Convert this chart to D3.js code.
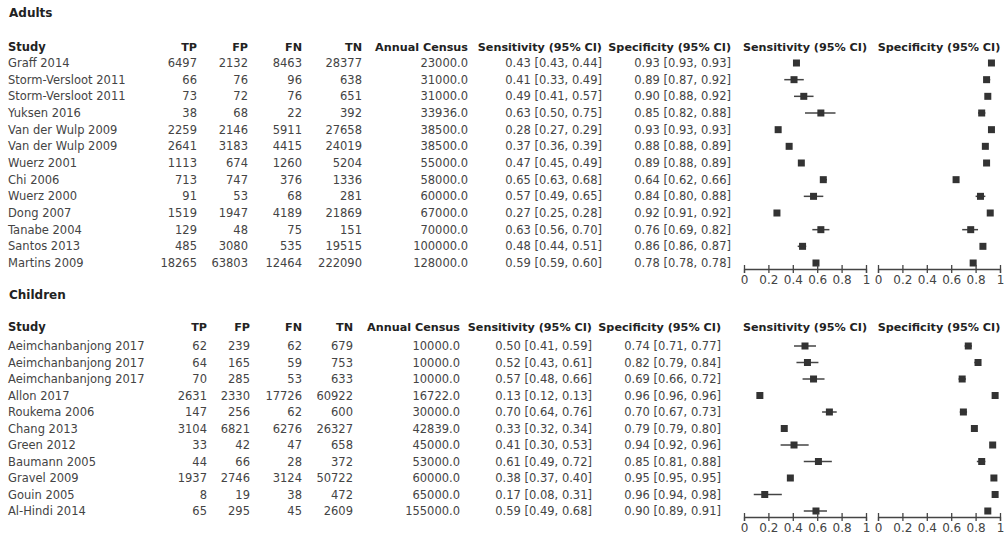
<!DOCTYPE html>
<html>
<head>
<meta charset="utf-8">
<script src="https://cdn.jsdelivr.net/npm/d3@7"></script>
<style>
body { margin: 0; background: #fff; }
text { font-family: "DejaVu Sans", sans-serif; }
</style>
</head>
<body>
<div id="chart"></div>
<script>
// ---- Adults data ----
var adultStudy = ["Graff 2014", "Storm-Versloot 2011", "Storm-Versloot 2011", "Yuksen 2016", "Van der Wulp 2009", "Van der Wulp 2009", "Wuerz 2001", "Chi 2006", "Wuerz 2000", "Dong 2007", "Tanabe 2004", "Santos 2013", "Martins 2009"];
var adultTP = [6497, 66, 73, 38, 2259, 2641, 1113, 713, 91, 1519, 129, 485, 18265];
var adultFP = [2132, 76, 72, 68, 2146, 3183, 674, 747, 53, 1947, 48, 3080, 63803];
var adultFN = [8463, 96, 76, 22, 5911, 4415, 1260, 376, 68, 4189, 75, 535, 12464];
var adultTN = [28377, 638, 651, 392, 27658, 24019, 5204, 1336, 281, 21869, 151, 19515, 222090];
var adultCensus = [23000, 31000, 31000, 33936, 38500, 38500, 55000, 58000, 60000, 67000, 70000, 100000, 128000];
var adultSens = [0.43, 0.41, 0.49, 0.63, 0.28, 0.37, 0.47, 0.65, 0.57, 0.27, 0.63, 0.48, 0.59];
var adultSensLo = [0.43, 0.33, 0.41, 0.50, 0.27, 0.36, 0.45, 0.63, 0.49, 0.25, 0.56, 0.44, 0.59];
var adultSensHi = [0.44, 0.49, 0.57, 0.75, 0.29, 0.39, 0.49, 0.68, 0.65, 0.28, 0.70, 0.51, 0.60];
var adultSpec = [0.93, 0.89, 0.90, 0.85, 0.93, 0.88, 0.89, 0.64, 0.84, 0.92, 0.76, 0.86, 0.78];
var adultSpecLo = [0.93, 0.87, 0.88, 0.82, 0.93, 0.88, 0.88, 0.62, 0.80, 0.91, 0.69, 0.86, 0.78];
var adultSpecHi = [0.93, 0.92, 0.92, 0.88, 0.93, 0.89, 0.89, 0.66, 0.88, 0.92, 0.82, 0.87, 0.78];

// ---- Children data ----
var childStudy = ["Aeimchanbanjong 2017", "Aeimchanbanjong 2017", "Aeimchanbanjong 2017", "Allon 2017", "Roukema 2006", "Chang 2013", "Green 2012", "Baumann 2005", "Gravel 2009", "Gouin 2005", "Al-Hindi 2014"];
var childTP = [62, 64, 70, 2631, 147, 3104, 33, 44, 1937, 8, 65];
var childFP = [239, 165, 285, 2330, 256, 6821, 42, 66, 2746, 19, 295];
var childFN = [62, 59, 53, 17726, 62, 6276, 47, 28, 3124, 38, 45];
var childTN = [679, 753, 633, 60922, 600, 26327, 658, 372, 50722, 472, 2609];
var childCensus = [10000, 10000, 10000, 16722, 30000, 42839, 45000, 53000, 60000, 65000, 155000];
var childSens = [0.50, 0.52, 0.57, 0.13, 0.70, 0.33, 0.41, 0.61, 0.38, 0.17, 0.59];
var childSensLo = [0.41, 0.43, 0.48, 0.12, 0.64, 0.32, 0.30, 0.49, 0.37, 0.08, 0.49];
var childSensHi = [0.59, 0.61, 0.66, 0.13, 0.76, 0.34, 0.53, 0.72, 0.40, 0.31, 0.68];
var childSpec = [0.74, 0.82, 0.69, 0.96, 0.70, 0.79, 0.94, 0.85, 0.95, 0.96, 0.90];
var childSpecLo = [0.71, 0.79, 0.66, 0.96, 0.67, 0.79, 0.92, 0.81, 0.95, 0.94, 0.89];
var childSpecHi = [0.77, 0.84, 0.72, 0.96, 0.73, 0.80, 0.96, 0.88, 0.95, 0.98, 0.91];

var axisTicks = [0, 0.2, 0.4, 0.6, 0.8, 1];

var width = 1007, height = 534;
var svg = d3.select("#chart").append("svg")
  .attr("width", width)
  .attr("height", height);

var f2 = d3.format(".2f");

function section(opt) {
  var n = opt.study.length;
  var g = svg.append("g");

  // section title
  g.append("text")
    .attr("x", 9).attr("y", opt.titleY)
    .attr("dy", "0.35em")
    .style("font-size", "12px").style("font-weight", "bold").style("fill", "#222")
    .text(opt.title);

  var y = d3.scalePoint()
    .domain(d3.range(n))
    .range([opt.firstRow, opt.lastRow]);

  var cols = [
    {name: "TP", x: opt.cols[0], vals: opt.tp.map(String)},
    {name: "FP", x: opt.cols[1], vals: opt.fp.map(String)},
    {name: "FN", x: opt.cols[2], vals: opt.fn.map(String)},
    {name: "TN", x: opt.cols[3], vals: opt.tn.map(String)},
    {name: "Annual Census", x: opt.cols[4], vals: opt.census.map(function(d) { return d.toFixed(1); })},
    {name: "Sensitivity (95% CI)", x: opt.cols[5], vals: opt.sens.map(function(d, i) { return f2(d) + " [" + f2(opt.sensLo[i]) + ", " + f2(opt.sensHi[i]) + "]"; })},
    {name: "Specificity (95% CI)", x: opt.cols[6], vals: opt.spec.map(function(d, i) { return f2(d) + " [" + f2(opt.specLo[i]) + ", " + f2(opt.specHi[i]) + "]"; })}
  ];

  // header row
  g.append("text")
    .attr("x", 8).attr("y", opt.headY).attr("dy", "0.35em")
    .style("font-size", "11.5px").style("font-weight", "bold").style("fill", "#222")
    .text("Study");
  cols.forEach(function(c) {
    g.append("text")
      .attr("x", c.x).attr("y", opt.headY).attr("dy", "0.35em")
      .attr("text-anchor", "end")
      .style("font-size", "11.2px").style("font-weight", "bold").style("fill", "#222")
      .text(c.name);
  });

  // study names
  g.selectAll(".study").data(opt.study).enter().append("text")
    .attr("x", 8).attr("y", function(d, i) { return y(i); }).attr("dy", "0.35em")
    .style("font-size", "11.5px").style("fill", "#444")
    .text(function(d) { return d; });

  cols.forEach(function(c) {
    g.selectAll(null).data(c.vals).enter().append("text")
      .attr("x", c.x).attr("y", function(d, i) { return y(i); }).attr("dy", "0.35em")
      .attr("text-anchor", "end")
      .style("font-size", "11.5px").style("fill", "#444")
      .text(function(d) { return d; });
  });

  // forest plots
  var plots = [
    {label: "Sensitivity (95% CI)", range: opt.sensRange, est: opt.sens, lo: opt.sensLo, hi: opt.sensHi},
    {label: "Specificity (95% CI)", range: opt.specRange, est: opt.spec, lo: opt.specLo, hi: opt.specHi}
  ];
  plots.forEach(function(p) {
    var x = d3.scaleLinear().domain([0, 1]).range(p.range);

    g.append("text")
      .attr("x", (p.range[0] + p.range[1]) / 2).attr("y", opt.headY).attr("dy", "0.35em")
      .attr("text-anchor", "middle")
      .style("font-size", "11.2px").style("font-weight", "bold").style("fill", "#222")
      .text(p.label);

    var rows = g.append("g").selectAll("g").data(p.est).enter().append("g");
    rows.append("line")
      .attr("x1", function(d, i) { return x(p.lo[i]); })
      .attr("x2", function(d, i) { return x(p.hi[i]); })
      .attr("y1", function(d, i) { return y(i); })
      .attr("y2", function(d, i) { return y(i); })
      .attr("stroke", "#444").attr("stroke-width", 1.5);
    rows.append("rect")
      .attr("x", function(d) { return x(d) - 3.5; })
      .attr("y", function(d, i) { return y(i) - 3.5; })
      .attr("width", 7).attr("height", 7)
      .attr("fill", "#333");

    var ax = g.append("g")
      .attr("transform", "translate(0," + opt.axisY + ")")
      .call(d3.axisBottom(x).tickValues(axisTicks).tickFormat(d3.format("")).tickSizeOuter(0).tickSize(4));
    ax.select(".domain").attr("stroke", "#444").attr("stroke-width", 1.3);
    ax.selectAll(".tick line").attr("y1", -4).attr("y2", 4).attr("stroke", "#444").attr("stroke-width", 1.3);
    ax.selectAll(".tick text")
      .attr("y", 6).attr("dy", "0.71em")
      .style("font-family", "DejaVu Sans, sans-serif")
      .style("font-size", "12px").style("fill", "#444");
  });
}

section({
  title: "Adults", titleY: 13, headY: 47, firstRow: 63, lastRow: 263, axisY: 269,
  cols: [197, 248, 302, 362, 468, 602, 731],
  sensRange: [744, 866], specRange: [878, 1000],
  study: adultStudy, tp: adultTP, fp: adultFP, fn: adultFN, tn: adultTN, census: adultCensus,
  sens: adultSens, sensLo: adultSensLo, sensHi: adultSensHi,
  spec: adultSpec, specLo: adultSpecLo, specHi: adultSpecHi
});

section({
  title: "Children", titleY: 295, headY: 327, firstRow: 346, lastRow: 511, axisY: 517,
  cols: [207, 250, 302, 353, 460, 592, 721],
  sensRange: [744, 866], specRange: [878, 1000],
  study: childStudy, tp: childTP, fp: childFP, fn: childFN, tn: childTN, census: childCensus,
  sens: childSens, sensLo: childSensLo, sensHi: childSensHi,
  spec: childSpec, specLo: childSpecLo, specHi: childSpecHi
});
</script>
</body>
</html>
